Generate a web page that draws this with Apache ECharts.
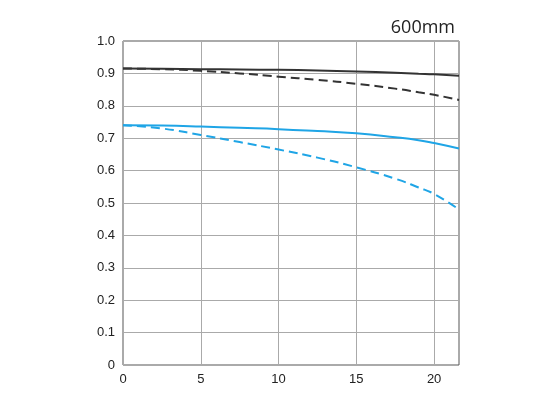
<!DOCTYPE html>
<html><head><meta charset="utf-8">
<script src="https://cdn.jsdelivr.net/npm/echarts@6/dist/echarts.min.js"></script>
<style>html,body{margin:0;padding:0;background:#fff}#c{width:552px;height:400px}</style>
</head><body><div id="c"></div>
<script>
var xs = [0, 2.5, 5, 7.5, 10, 12.5, 15, 17.5, 19, 20, 21.6];
var blackSolid = [0.915, 0.914, 0.913, 0.912, 0.911, 0.909, 0.906, 0.902, 0.899, 0.897, 0.893];
var blackDashed = [0.915, 0.913, 0.908, 0.9, 0.89, 0.88, 0.868, 0.853, 0.842, 0.834, 0.818];
var blueSolid = [0.74, 0.739, 0.736, 0.732, 0.728, 0.722, 0.715, 0.703, 0.694, 0.685, 0.668];
var blueDashed = [0.74, 0.73, 0.71, 0.688, 0.665, 0.64, 0.61, 0.575, 0.548, 0.528, 0.48];

function pairs(v) { return xs.map(function (x, i) { return [x, v[i]]; }); }
function line(v, color, type) {
  return { type: 'line', data: pairs(v), smooth: true, showSymbol: false,
    lineStyle: { color: color, width: 2, type: type } };
}
var myChart = echarts.init(document.getElementById('c'));
myChart.setOption({
  animation: false,
  title: { text: '600mm', right: 92, top: 14,
    textStyle: { fontSize: 18, fontWeight: 'normal', color: '#222', fontFamily: 'Open Sans' } },
  grid: { left: 123, right: 93, top: 41, bottom: 35, show: true, borderColor: '#555', borderWidth: 1 },
  xAxis: { type: 'value', min: 0, max: 21.6, interval: 5,
    axisLine: { show: false }, axisTick: { show: false },
    axisLabel: { color: '#222', fontSize: 13, formatter: function (v) { return v % 5 === 0 ? v : ''; } },
    splitLine: { lineStyle: { color: '#aaa' } } },
  yAxis: { type: 'value', min: 0, max: 1, interval: 0.1,
    axisLine: { show: false }, axisTick: { show: false },
    axisLabel: { color: '#222', fontSize: 13, formatter: function (v) { return v === 0 ? '0' : v.toFixed(1); } },
    splitLine: { lineStyle: { color: '#aaa' } } },
  series: [
    line(blackSolid, '#333', 'solid'),
    line(blackDashed, '#333', [9, 5]),
    line(blueSolid, '#1fa5e6', 'solid'),
    line(blueDashed, '#1fa5e6', [9, 5])
  ]
});
</script></body></html>
